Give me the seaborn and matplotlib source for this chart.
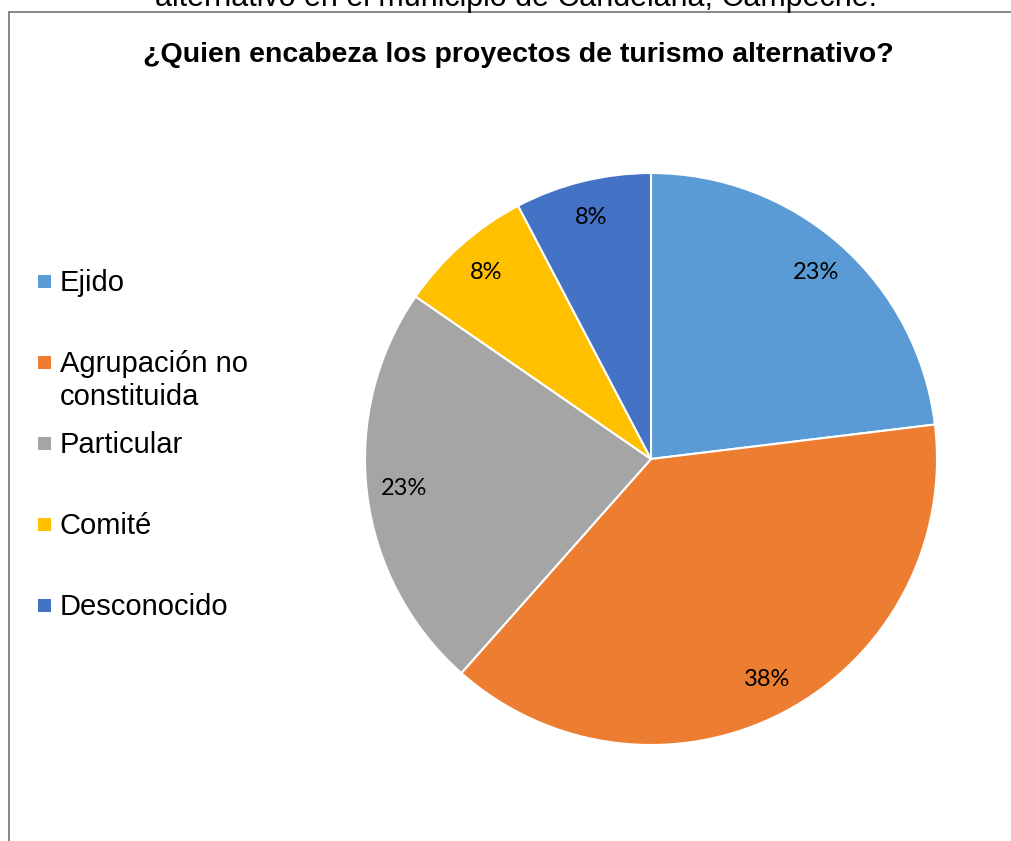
import matplotlib
matplotlib.use("Agg")
import matplotlib.pyplot as plt
import seaborn as sns
from matplotlib.patches import Rectangle
from matplotlib.lines import Line2D

categories = ["Ejido", "Agrupación no\nconstituida", "Particular", "Comité", "Desconocido"]
counts = [3, 5, 3, 1, 1]
colors = ["#5B9BD5", "#ED7D31", "#A5A5A5", "#FFC000", "#4472C4"]

title = "¿Quien encabeza los proyectos de turismo alternativo?"
caption = "alternativo en el municipio de Candelaria, Campeche."

sns.set_theme(style="white")
plt.rcParams["font.family"] = ["Liberation Sans", "DejaVu Sans"]

W, H = 1012, 841
fig = plt.figure(figsize=(W / 100, H / 100), dpi=100)

# pie area: centre (651, 459) px, radius 286 px
cx, cy, r = 651, 459, 286
ax = fig.add_axes([(cx - r) / W, (H - cy - r) / H, 2 * r / W, 2 * r / H])
wedges, texts, autotexts = ax.pie(
    counts,
    colors=colors,
    startangle=90,
    counterclock=False,
    autopct="%1.0f%%",
    pctdistance=0.87,
    wedgeprops=dict(edgecolor="white", linewidth=1.5),
    textprops=dict(fontsize=17, family="Lato", color="#000000"),
)
ax.set_xlim(-1, 1)
ax.set_ylim(-1, 1)
ax.axis("off")

# chart title
fig.text(518 / W, 1 - 55 / H, title, ha="center", va="center",
         fontsize=20.5, fontweight="bold", color="#000000")

# cut-off caption at the very top
fig.text(516 / W, 1 - 6 / H, caption, ha="center", va="baseline",
         fontsize=22, color="#000000")

# chart area border (only left and top edges visible)
fig.add_artist(Line2D([8.5 / W, 8.5 / W], [0, 1 - 11.5 / H], transform=fig.transFigure,
                      color="#888888", linewidth=1.4))
fig.add_artist(Line2D([8.5 / W, 1], [1 - 11.5 / H, 1 - 11.5 / H], transform=fig.transFigure,
                      color="#888888", linewidth=1.4))

# legend, entries 81 px apart, marker level with the first line
for i, (lab, col) in enumerate(zip(categories, colors)):
    y = 281 + 81 * i
    fig.add_artist(Rectangle((38 / W, 1 - (y + 7) / H), 13 / W, 13 / H,
                             transform=fig.transFigure, facecolor=col, edgecolor="none"))
    fig.text(60 / W, 1 - (y - 12) / H, lab, ha="left", va="top",
             fontsize=21, color="#000000", linespacing=1.22)

fig.savefig("out.png", dpi=100)
